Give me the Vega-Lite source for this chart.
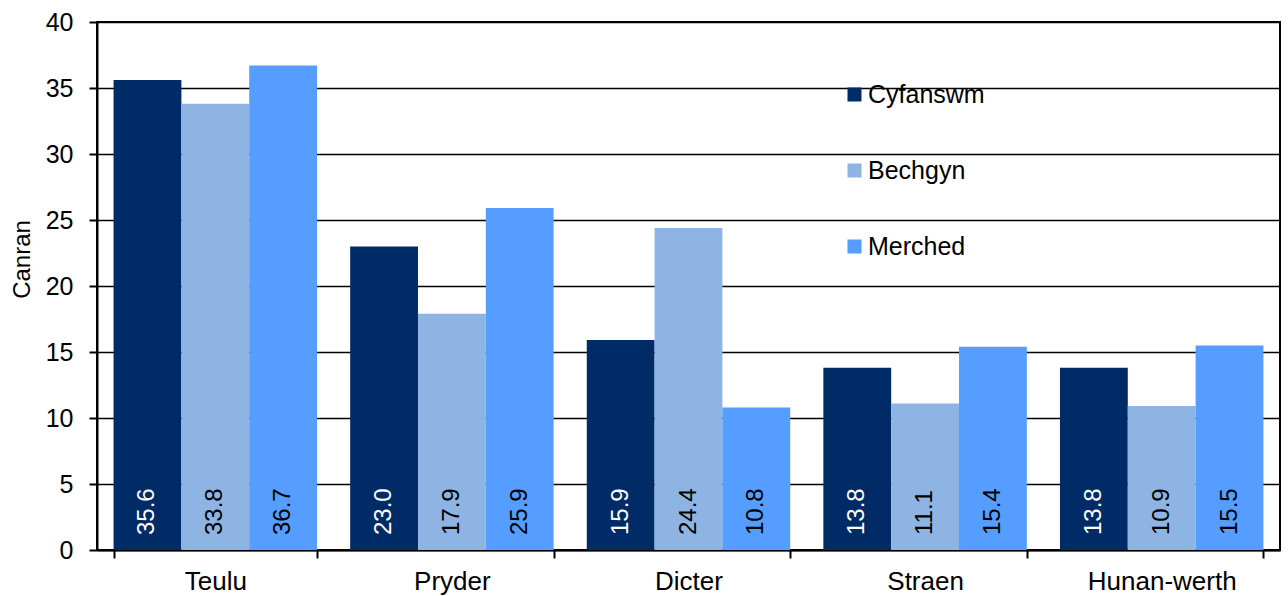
{
  "$schema": "https://vega.github.io/schema/vega-lite/v6.json",
  "autosize": {"type": "none"},
  "padding": {"left": 97, "top": 22, "right": 8, "bottom": 46},
  "width": 1183,
  "height": 528,
  "background": "white",
  "config": {
    "font": "Liberation Sans",
    "view": {"stroke": "black", "strokeWidth": 2}
  },
  "data": {
    "values": [
      {"cat": "Teulu", "grp": "Cyfanswm", "val": 35.6},
      {"cat": "Teulu", "grp": "Bechgyn", "val": 33.8},
      {"cat": "Teulu", "grp": "Merched", "val": 36.7},
      {"cat": "Pryder", "grp": "Cyfanswm", "val": 23.0},
      {"cat": "Pryder", "grp": "Bechgyn", "val": 17.9},
      {"cat": "Pryder", "grp": "Merched", "val": 25.9},
      {"cat": "Dicter", "grp": "Cyfanswm", "val": 15.9},
      {"cat": "Dicter", "grp": "Bechgyn", "val": 24.4},
      {"cat": "Dicter", "grp": "Merched", "val": 10.8},
      {"cat": "Straen", "grp": "Cyfanswm", "val": 13.8},
      {"cat": "Straen", "grp": "Bechgyn", "val": 11.1},
      {"cat": "Straen", "grp": "Merched", "val": 15.4},
      {"cat": "Hunan-werth", "grp": "Cyfanswm", "val": 13.8},
      {"cat": "Hunan-werth", "grp": "Bechgyn", "val": 10.9},
      {"cat": "Hunan-werth", "grp": "Merched", "val": 15.5}
    ]
  },
  "encoding": {
    "x": {
      "field": "cat", "type": "nominal",
      "sort": ["Teulu", "Pryder", "Dicter", "Straen", "Hunan-werth"],
      "scale": {"paddingInner": 0.14, "paddingOuter": 0.07},
      "axis": {
        "title": null, "labelAngle": 0, "labelFontSize": 26, "labelColor": "black",
        "domainColor": "black", "domainWidth": 2, "tickColor": "black", "tickWidth": 2,
        "tickSize": 8, "tickBand": "extent", "labelPadding": 10
      }
    },
    "xOffset": {
      "field": "grp", "type": "nominal",
      "sort": ["Cyfanswm", "Bechgyn", "Merched"],
      "scale": {"paddingInner": 0, "paddingOuter": 0}
    }
  },
  "layer": [
    {
      "mark": {"type": "bar"},
      "encoding": {
        "y": {
          "field": "val", "type": "quantitative",
          "scale": {"domain": [0, 40], "nice": false},
          "axis": {
            "title": "Canran", "titleFontSize": 24, "titleFontWeight": "normal", "titleColor": "black",
            "titleX": -75, "titleY": 237, "titleAlign": "center", "titleBaseline": "middle",
            "values": [0, 5, 10, 15, 20, 25, 30, 35, 40],
            "labelFontSize": 25, "labelColor": "black", "labelPadding": 16,
            "domainColor": "black", "domainWidth": 2, "tickColor": "black", "tickWidth": 2, "tickSize": 8,
            "grid": true, "gridColor": "black", "gridWidth": 1.5, "gridOpacity": 1
          }
        },
        "color": {
          "field": "grp", "type": "nominal",
          "sort": ["Cyfanswm", "Bechgyn", "Merched"],
          "scale": {"domain": ["Cyfanswm", "Bechgyn", "Merched"], "range": ["#002B66", "#8EB4E3", "#559DFF"]},
          "legend": {
            "title": null, "orient": "none", "legendX": 745, "legendY": 60,
            "symbolType": "square", "symbolSize": 196, "symbolStrokeWidth": 0,
            "labelFontSize": 25, "labelColor": "black", "rowPadding": 50, "labelOffset": 1
          }
        }
      }
    },
    {
      "mark": {"type": "text", "angle": -90, "align": "left", "baseline": "middle", "fontSize": 24, "dx": 15},
      "encoding": {
        "y": {"datum": 0, "type": "quantitative"},
        "text": {"field": "val", "type": "quantitative", "format": ".1f"},
        "color": {"condition": {"test": "datum.grp === 'Cyfanswm'", "value": "white"}, "value": "black"}
      }
    }
  ]
}
